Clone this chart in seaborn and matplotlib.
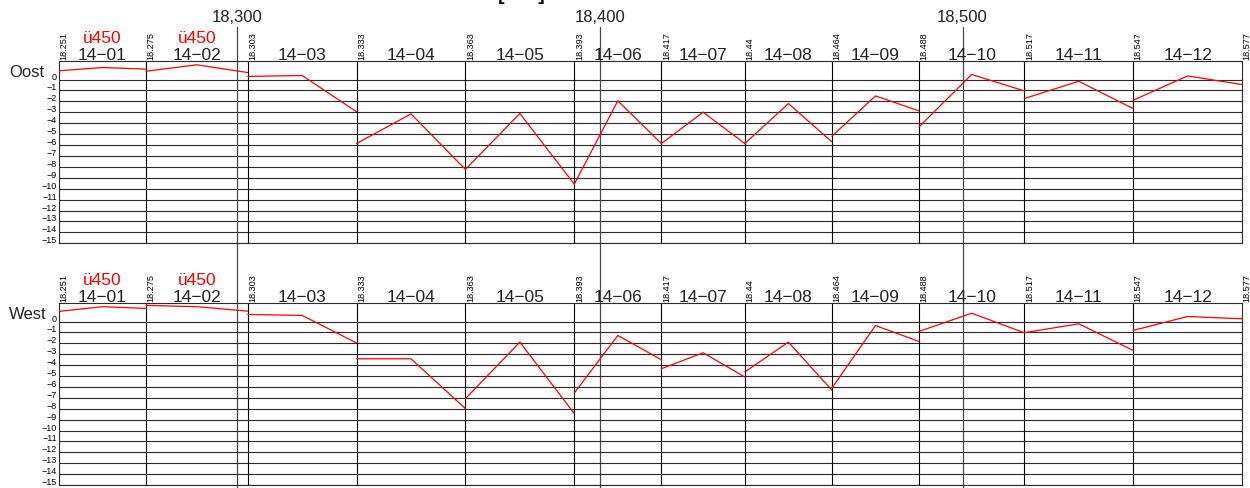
import matplotlib
matplotlib.use("Agg")
import matplotlib.pyplot as plt
import matplotlib.transforms as mtransforms
import numpy as np
import pandas as pd
import seaborn as sns

# ---- data -----------------------------------------------------------------
# section boundaries (chainage, km)
boundaries = [18.251, 18.275, 18.303, 18.333, 18.363, 18.393, 18.417,
              18.44, 18.464, 18.488, 18.517, 18.547, 18.577]
sections = ["14−01", "14−02", "14−03", "14−04", "14−05", "14−06",
            "14−07", "14−08", "14−09", "14−10", "14−11", "14−12"]
notes = ["ü450", "ü450", "", "", "", "", "", "", "", "", "", ""]
# chainage of the intermediate measuring point in each section
mid_km = [18.263, 18.289, 18.318, 18.348, 18.378, 18.405,
          18.4285, 18.452, 18.476, 18.5025, 18.532, 18.562]

# measured deviations per section: start / middle / end
oost_start = [0.80, 0.76, 0.28, -5.86, -8.23, -9.58, -5.86, -5.86, -5.19, -4.34, -1.74, -1.90]
oost_mid = [1.10, 1.35, 0.37, -3.15, -3.11, -1.95, -2.99, -2.20, -1.50, 0.46, -0.16, 0.33]
oost_end = [0.95, 0.64, -2.95, -8.23, -9.58, -5.86, -5.86, -5.71, -2.87, -1.04, -2.66, -0.46]

west_start = [0.93, 1.48, 0.65, -3.42, -7.08, -6.56, -4.33, -4.63, -6.10, -0.91, -1.03, -0.82]
west_mid = [1.36, 1.36, 0.56, -3.42, -1.89, -1.28, -2.87, -1.89, -0.37, 0.76, -0.21, 0.46]
west_end = [1.20, 0.95, -1.97, -7.99, -8.45, -3.51, -5.09, -6.31, -1.83, -1.03, -2.65, 0.25]

# reference chainage marks
marks_km = [18.300, 18.400, 18.500]
marks_txt = ["18,300", "18,400", "18,500"]

y_levels = list(range(0, -16, -1))
y_labels = ["0"] + [f"−{-v}" for v in y_levels[1:]]


def side_frame(name, start, mid, end):
    rows = []
    for i, sec in enumerate(sections):
        rows.append((name, sec, boundaries[i], start[i]))
        rows.append((name, sec, mid_km[i], mid[i]))
        rows.append((name, sec, boundaries[i + 1], end[i]))
    return pd.DataFrame(rows, columns=["side", "section", "km", "value"])


df = pd.concat([side_frame("Oost", oost_start, oost_mid, oost_end),
                side_frame("West", west_start, west_mid, west_end)],
               ignore_index=True)

# ---- style ----------------------------------------------------------------
sns.set_style("white")
plt.rcParams["font.family"] = ["Liberation Sans", "DejaVu Sans"]

W, H = 1250, 488
fig = plt.figure(figsize=(W / 100, H / 100), dpi=100)

x0, x1 = 59, 1242
panels = [("Oost", 61.3, 243.3), ("West", 303.3, 485.0)]
line_col = "#2a2a2a"

axes = []
for side, top_px, bot_px in panels:
    ax = fig.add_axes([x0 / W, 1 - bot_px / H, (x1 - x0) / W, (bot_px - top_px) / H])
    ax.set_facecolor("none")
    ax.set_xlim(boundaries[0], boundaries[-1])
    ax.set_ylim(-15, 1.67)

    # horizontal grid for every level
    ax.set_yticks(y_levels)
    ax.set_yticklabels(y_labels)
    ax.grid(axis="y", color=line_col, lw=0.8)
    ax.grid(axis="x", visible=False)
    ax.set_xticks([])
    ax.tick_params(axis="y", length=0, pad=1.5, labelsize=6.5, labelcolor="black")
    for lab in ax.get_yticklabels():
        lab.set_verticalalignment("baseline")
    for sp in ax.spines.values():
        sp.set_visible(True)
        sp.set_color(line_col)
        sp.set_linewidth(0.8)

    # section boundaries
    for b in boundaries[1:-1]:
        ax.axvline(b, color="black", lw=0.8, zorder=1)

    # measured profile, one polyline per section
    sns.lineplot(data=df[df["side"] == side], x="km", y="value",
                 units="section", estimator=None, sort=True,
                 color="#ff0000", lw=0.9, ax=ax, legend=False, zorder=3)
    ax.set_xlabel("")
    ax.set_ylabel("")

    xt = ax.get_xaxis_transform()
    # section names and notes above the box
    for i, sec in enumerate(sections):
        ax.annotate(sec, xy=(mid_km[i], 1), xycoords=xt, xytext=(0, 1.0),
                    textcoords="offset points", ha="center", va="baseline",
                    fontsize=12.5, color="#222222", annotation_clip=False)
        if notes[i]:
            ax.annotate(notes[i], xy=(mid_km[i], 1), xycoords=xt, xytext=(0, 13.0),
                        textcoords="offset points", ha="center", va="baseline",
                        fontsize=12.5, color="#ff0000", annotation_clip=False)
    # boundary chainages, rotated
    for b in boundaries:
        ax.annotate(f"{b:g}", xy=(b, 1), xycoords=xt, xytext=(0.5, 0.8),
                    textcoords="offset points", rotation=90, ha="left",
                    va="bottom", fontsize=6.6, color="black",
                    annotation_clip=False)

    # side name
    side_tr = mtransforms.blended_transform_factory(ax.transAxes, ax.transData)
    ax.text((9 - x0) / (x1 - x0), 0.22, side, transform=side_tr, ha="left",
            va="baseline", fontsize=12, color="#222222")
    axes.append(ax)

# long chainage marks through both panels
ax_top = axes[0]
top_h = panels[0][2] - panels[0][1]
for km, txt in zip(marks_km, marks_txt):
    ax_top.axvline(km, ymin=-(H - panels[0][2]) / top_h,
                   ymax=(panels[0][2] - 26.7) / top_h,
                   color="#4a4a4a", lw=0.9, clip_on=False, zorder=2)
    ax_top.text(km, (panels[0][2] - 21.7) / top_h, txt,
                transform=ax_top.get_xaxis_transform(), ha="center",
                va="baseline", fontsize=12, color="#222222")

# drawing title, cut by the sheet border
fig.text(522 / W, 1.0, "[mm]", ha="center", va="baseline", fontsize=14,
         fontweight="bold", color="black")

fig.savefig("out.png", dpi=100)
